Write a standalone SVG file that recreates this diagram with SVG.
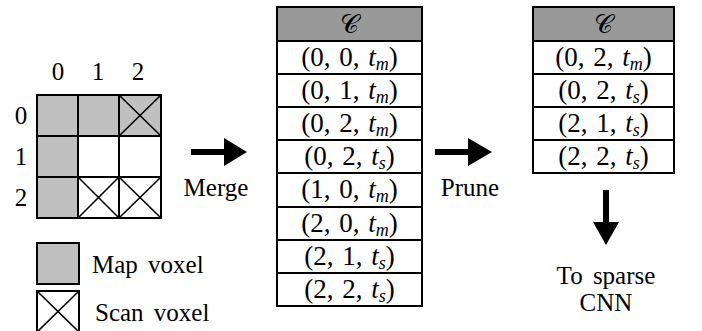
<svg xmlns="http://www.w3.org/2000/svg" width="702" height="331" viewBox="0 0 702 331">
<style>
text{font-family:"Liberation Serif","Times New Roman",serif;fill:#000;}
.lbl{font-size:25px;}
.wide{word-spacing:4px;}
.cell{font-size:27px;text-anchor:middle;word-spacing:2px;}
.cal{font-size:26px;text-anchor:middle;font-family:"DejaVu Serif","Liberation Serif",serif;font-weight:normal;}
.it{font-style:italic;}
.sub{font-size:18px;font-style:italic;}
.map{fill:#c0c0c0;stroke:#000;stroke-width:2;}
.emp{fill:#fff;stroke:#000;stroke-width:2;}
.x{stroke:#000;stroke-width:1.6;fill:none;}
.row{fill:#fff;stroke:#000;stroke-width:2;}
.hdr{fill:#999;stroke:#000;stroke-width:2;}
.arr{fill:#000;}
</style>
<g id="grid">
<rect class="map" x="37" y="95" width="41" height="41"/>
<rect class="map" x="78" y="95" width="41" height="41"/>
<rect class="map" x="119" y="95" width="42" height="41"/>
<path class="x" d="M119 95L161 136M161 95L119 136"/>
<rect class="map" x="37" y="136" width="41" height="41"/>
<rect class="emp" x="78" y="136" width="41" height="41"/>
<rect class="emp" x="119" y="136" width="42" height="41"/>
<rect class="map" x="37" y="177" width="41" height="41"/>
<rect class="emp" x="78" y="177" width="41" height="41"/>
<path class="x" d="M78 177L119 218M119 177L78 218"/>
<rect class="emp" x="119" y="177" width="42" height="41"/>
<path class="x" d="M119 177L161 218M161 177L119 218"/>
<text class="lbl" x="58" y="80" text-anchor="middle">0</text>
<text class="lbl" x="98" y="80" text-anchor="middle">1</text>
<text class="lbl" x="138" y="80" text-anchor="middle">2</text>
<text class="lbl" x="21" y="124" text-anchor="middle">0</text>
<text class="lbl" x="21" y="165" text-anchor="middle">1</text>
<text class="lbl" x="21" y="206" text-anchor="middle">2</text>
</g>
<g id="legend">
<rect class="map" x="37" y="243" width="42" height="41"/>
<text class="lbl wide" x="92" y="273">Map voxel</text>
<rect class="emp" x="37" y="291" width="42" height="41"/>
<path class="x" d="M37 291L79 332M79 291L37 332"/>
<text class="lbl wide" x="95" y="321">Scan voxel</text>
</g>
<g id="table-merged">
<rect class="hdr" x="277" y="7" width="145" height="34"/>
<text class="cal" x="349.5" y="33">𝒞</text>
<rect class="row" x="277" y="41" width="145" height="33"/>
<text class="cell" x="349.5" y="66">(0, 0, <tspan class="it">t</tspan><tspan class="sub" dy="4">m</tspan><tspan dy="-4">)</tspan></text>
<rect class="row" x="277" y="74" width="145" height="33"/>
<text class="cell" x="349.5" y="99">(0, 1, <tspan class="it">t</tspan><tspan class="sub" dy="4">m</tspan><tspan dy="-4">)</tspan></text>
<rect class="row" x="277" y="107" width="145" height="33"/>
<text class="cell" x="349.5" y="132">(0, 2, <tspan class="it">t</tspan><tspan class="sub" dy="4">m</tspan><tspan dy="-4">)</tspan></text>
<rect class="row" x="277" y="140" width="145" height="33"/>
<text class="cell" x="349.5" y="165">(0, 2, <tspan class="it">t</tspan><tspan class="sub" dy="4">s</tspan><tspan dy="-4">)</tspan></text>
<rect class="row" x="277" y="173" width="145" height="34"/>
<text class="cell" x="349.5" y="198">(1, 0, <tspan class="it">t</tspan><tspan class="sub" dy="4">m</tspan><tspan dy="-4">)</tspan></text>
<rect class="row" x="277" y="207" width="145" height="33"/>
<text class="cell" x="349.5" y="232">(2, 0, <tspan class="it">t</tspan><tspan class="sub" dy="4">m</tspan><tspan dy="-4">)</tspan></text>
<rect class="row" x="277" y="240" width="145" height="33"/>
<text class="cell" x="349.5" y="265">(2, 1, <tspan class="it">t</tspan><tspan class="sub" dy="4">s</tspan><tspan dy="-4">)</tspan></text>
<rect class="row" x="277" y="273" width="145" height="33"/>
<text class="cell" x="349.5" y="298">(2, 2, <tspan class="it">t</tspan><tspan class="sub" dy="4">s</tspan><tspan dy="-4">)</tspan></text>
</g>
<g id="table-pruned">
<rect class="hdr" x="533" y="7" width="141" height="34"/>
<text class="cal" x="603.5" y="33">𝒞</text>
<rect class="row" x="533" y="41" width="141" height="33"/>
<text class="cell" x="603.5" y="66">(0, 2, <tspan class="it">t</tspan><tspan class="sub" dy="4">m</tspan><tspan dy="-4">)</tspan></text>
<rect class="row" x="533" y="74" width="141" height="33"/>
<text class="cell" x="603.5" y="99">(0, 2, <tspan class="it">t</tspan><tspan class="sub" dy="4">s</tspan><tspan dy="-4">)</tspan></text>
<rect class="row" x="533" y="107" width="141" height="33"/>
<text class="cell" x="603.5" y="132">(2, 1, <tspan class="it">t</tspan><tspan class="sub" dy="4">s</tspan><tspan dy="-4">)</tspan></text>
<rect class="row" x="533" y="140" width="141" height="33"/>
<text class="cell" x="603.5" y="165">(2, 2, <tspan class="it">t</tspan><tspan class="sub" dy="4">s</tspan><tspan dy="-4">)</tspan></text>
</g>
<g id="connectors">
<path class="arr" d="M191 149H224V138L247 152L224 166V155H191Z"/>
<path class="arr" d="M435 149H468V138L492 152L468 166V155H435Z"/>
<path class="arr" d="M603 190V222H593L606 245L619 222H609V190Z"/>
</g>
<g id="labels">
<text class="lbl" x="216" y="196" text-anchor="middle">Merge</text>
<text class="lbl" x="470" y="196" text-anchor="middle">Prune</text>
<text class="lbl wide" x="606" y="284" text-anchor="middle">To sparse</text>
<text class="lbl" x="606" y="311" text-anchor="middle">CNN</text>
</g>
</svg>
